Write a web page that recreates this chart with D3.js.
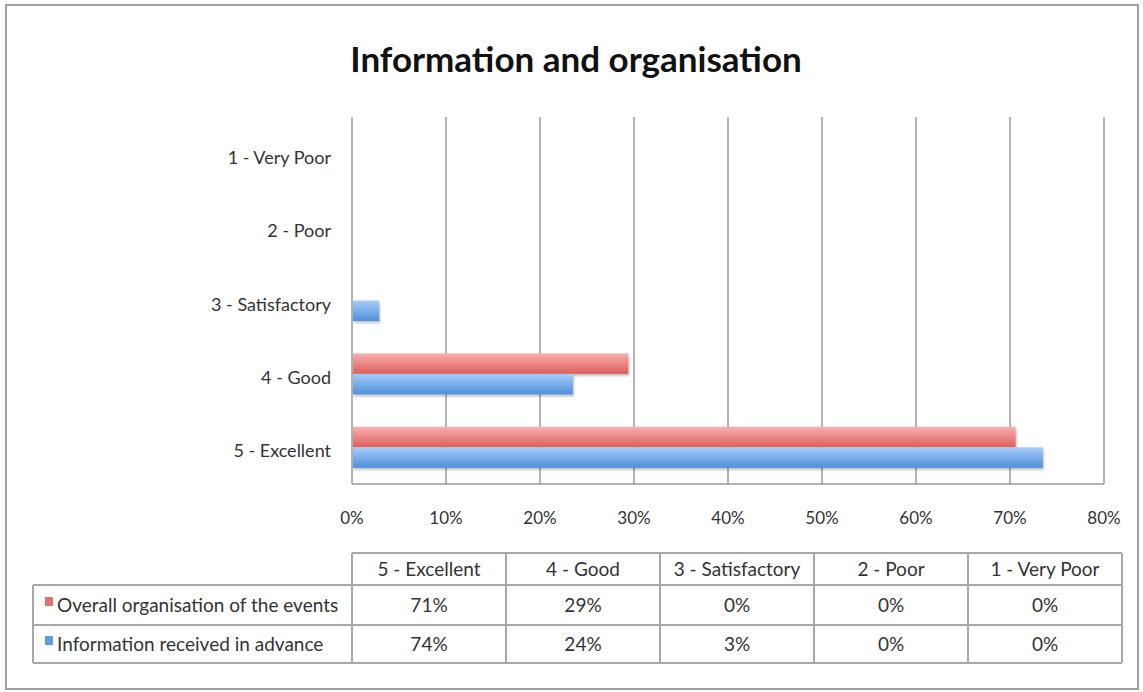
<!DOCTYPE html>
<html>
<head>
<meta charset="utf-8">
<script src="https://cdn.jsdelivr.net/npm/d3@7"></script>
<style>
body { margin: 0; background: #fff; }
text { font-family: Lato, "Open Sans", sans-serif; fill: #333; }
</style>
</head>
<body>
<svg id="chart" width="1143" height="692"></svg>
<script>
// categories as drawn on the y axis, top to bottom
var categories = ['1 - Very Poor', '2 - Poor', '3 - Satisfactory', '4 - Good', '5 - Excellent'];
// table column order
var tableCols = ['5 - Excellent', '4 - Good', '3 - Satisfactory', '2 - Poor', '1 - Very Poor'];
var seriesNames = ['Overall organisation of the events', 'Information received in advance'];
var seriesColors = ['#e8706e', '#5f9de3'];
// values (%) per category, same order as tableCols
var overallVals = [70.6, 29.4, 0, 0, 0];
var infoVals = [73.5, 23.5, 2.9, 0, 0];
// values printed in the table
var overallLabels = ['71%', '29%', '0%', '0%', '0%'];
var infoLabels = ['74%', '24%', '3%', '0%', '0%'];
var xTicks = [0, 10, 20, 30, 40, 50, 60, 70, 80];

var svg = d3.select('#chart');
var defs = svg.append('defs');

function grad(id, c1, c2) {
	var g = defs.append('linearGradient').attr('id', id)
		.attr('x1', 0).attr('y1', 0).attr('x2', 0).attr('y2', 1);
	g.append('stop').attr('offset', '0%').attr('stop-color', c1);
	g.append('stop').attr('offset', '100%').attr('stop-color', c2);
}
grad('g0', '#f9b0ae', '#dc5f5c');
grad('g1', '#a6cdf8', '#4e8fdc');

var f = defs.append('filter').attr('id', 'shadow').attr('x', '-5%').attr('y', '-20%').attr('width', '110%').attr('height', '160%');
f.append('feDropShadow').attr('dx', 1).attr('dy', 2).attr('stdDeviation', 1.2).attr('flood-color', '#000').attr('flood-opacity', 0.25);

// outer frame
svg.append('rect').attr('x', 6).attr('y', 5).attr('width', 1132).attr('height', 684)
	.attr('fill', 'none').attr('stroke', '#a0a0a0').attr('stroke-width', 2);

// title
svg.append('text').attr('x', 576).attr('y', 72).attr('text-anchor', 'middle')
	.style('font-size', '35px').style('font-weight', 'bold').style('fill', '#111')
	.text('Information and organisation');

var pLeft = 352, pRight = 1104, pTop = 117, pBottom = 484;

var x = d3.scaleLinear().domain([0, 80]).range([pLeft, pRight]);
var y = d3.scaleBand().domain(categories).range([pTop, pBottom]).paddingInner(0.44).paddingOuter(0.22);
var ySub = d3.scaleBand().domain([0, 1]).range([0, y.bandwidth()]);

// grid lines
svg.append('g').selectAll('line').data(xTicks).enter().append('line')
	.attr('x1', function(d) { return x(d); }).attr('x2', function(d) { return x(d); })
	.attr('y1', pTop).attr('y2', pBottom)
	.attr('stroke', '#9a9a9a').attr('stroke-width', 1.5);
svg.append('line').attr('x1', pLeft).attr('x2', pRight).attr('y1', pBottom).attr('y2', pBottom)
	.attr('stroke', '#9a9a9a').attr('stroke-width', 1.5);

// x tick labels
svg.append('g').selectAll('text').data(xTicks).enter().append('text')
	.attr('x', function(d) { return x(d); }).attr('y', 524)
	.attr('text-anchor', 'middle').style('font-size', '17px')
	.text(function(d) { return d + '%'; });

// y labels
svg.append('g').selectAll('text').data(categories).enter().append('text')
	.attr('x', 331).attr('y', function(d) { return y(d) + y.bandwidth() / 2 + 10; })
	.attr('text-anchor', 'end').style('font-size', '18px')
	.text(function(d) { return d; });

// bars
var barData = [];
tableCols.forEach(function(c, i) {
	barData.push({ cat: c, s: 0, v: overallVals[i] });
	barData.push({ cat: c, s: 1, v: infoVals[i] });
});
svg.append('g').selectAll('rect').data(barData.filter(function(d) { return d.v > 0; })).enter().append('rect')
	.attr('x', x(0) + 1)
	.attr('y', function(d) { return y(d.cat) + ySub(d.s); })
	.attr('width', function(d) { return x(d.v) - x(0) - 1; })
	.attr('height', ySub.bandwidth())
	.attr('fill', function(d) { return 'url(#g' + d.s + ')'; })
	.attr('filter', 'url(#shadow)');

// table
var tx = d3.scaleBand().domain(tableCols).range([352, 1122]);
var rowY = [553, 585, 625, 663];
var tg = svg.append('g');
var lc = '#a8a8a8';
// horizontal lines
tg.append('line').attr('x1', 352).attr('x2', 1122).attr('y1', rowY[0]).attr('y2', rowY[0]).attr('stroke', lc).attr('stroke-width', 2);
[1, 2, 3].forEach(function(i) {
	tg.append('line').attr('x1', 33).attr('x2', 1122).attr('y1', rowY[i]).attr('y2', rowY[i]).attr('stroke', lc).attr('stroke-width', 2);
});
// vertical lines
tg.append('line').attr('x1', 33).attr('x2', 33).attr('y1', rowY[1]).attr('y2', rowY[3]).attr('stroke', lc).attr('stroke-width', 2);
tableCols.forEach(function(c) {
	tg.append('line').attr('x1', tx(c)).attr('x2', tx(c)).attr('y1', rowY[0]).attr('y2', rowY[3]).attr('stroke', lc).attr('stroke-width', 2);
});
tg.append('line').attr('x1', 1122).attr('x2', 1122).attr('y1', rowY[0]).attr('y2', rowY[3]).attr('stroke', lc).attr('stroke-width', 2);

// header
tg.selectAll('text.h').data(tableCols).enter().append('text').attr('class', 'h')
	.attr('x', function(d) { return tx(d) + tx.bandwidth() / 2; }).attr('y', 576)
	.attr('text-anchor', 'middle').style('font-size', '19px')
	.text(function(d) { return d; });

// rows
var rows = [overallLabels, infoLabels];
rows.forEach(function(r, i) {
	var cy = (rowY[i + 1] + rowY[i + 2]) / 2 + 7;
	tg.append('rect').attr('x', 45).attr('y', cy - 15).attr('width', 8).attr('height', 9)
		.attr('fill', seriesColors[i]);
	tg.append('text').attr('x', 57).attr('y', cy).style('font-size', '19px').text(seriesNames[i]);
	tg.selectAll('text.r' + i).data(r).enter().append('text').attr('class', 'r' + i)
		.attr('x', function(d, j) { return tx(tableCols[j]) + tx.bandwidth() / 2; }).attr('y', cy)
		.attr('text-anchor', 'middle').style('font-size', '19px')
		.text(function(d) { return d; });
});
</script>
</body>
</html>
